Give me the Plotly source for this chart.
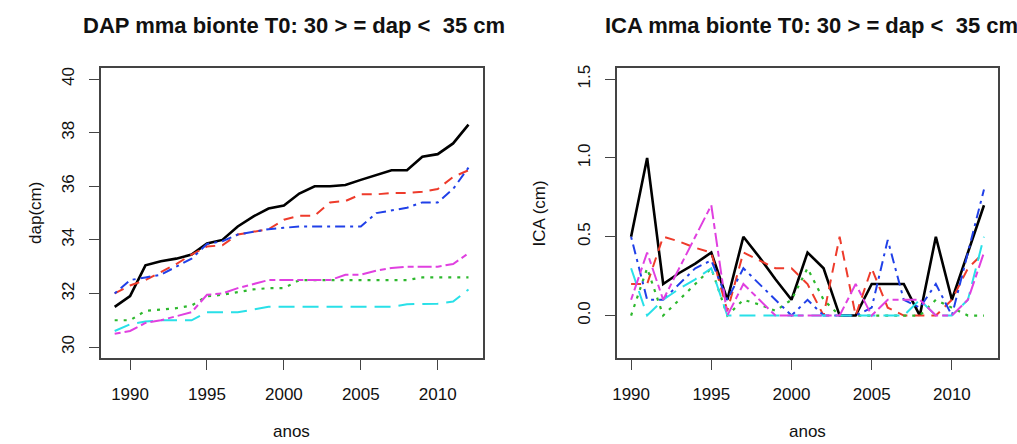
import plotly.graph_objects as go

W, H = 1017, 444

years_dap = [1989, 1990, 1991, 1992, 1993, 1994, 1995, 1996, 1997, 1998, 1999, 2000,
             2001, 2002, 2003, 2004, 2005, 2006, 2007, 2008, 2009, 2010, 2011, 2012]
years_ica = [1990, 1991, 1992, 1993, 1994, 1995, 1996, 1997, 1998, 1999, 2000,
             2001, 2002, 2003, 2004, 2005, 2006, 2007, 2008, 2009, 2010, 2011, 2012]

dap_s1 = [31.5, 31.9, 33.05, 33.2, 33.3, 33.45, 33.87, 34.0, 34.5, 34.87, 35.17, 35.28,
          35.73, 36.0, 36.0, 36.05, 36.24, 36.43, 36.6, 36.6, 37.1, 37.2, 37.6, 38.3]
dap_s2 = [32.0, 32.3, 32.5, 32.8, 33.1, 33.45, 33.75, 33.8, 34.2, 34.3, 34.4, 34.75,
          34.9, 34.9, 35.4, 35.45, 35.7, 35.7, 35.75, 35.75, 35.8, 35.9, 36.35, 36.6]
dap_s3 = [31.0, 31.0, 31.35, 31.4, 31.45, 31.55, 31.9, 31.95, 32.05, 32.15, 32.2, 32.2,
          32.5, 32.5, 32.5, 32.5, 32.5, 32.5, 32.5, 32.5, 32.6, 32.6, 32.6, 32.6]
dap_s4 = [32.0, 32.5, 32.6, 32.7, 33.0, 33.3, 33.85, 33.95, 34.2, 34.3, 34.4, 34.45,
          34.5, 34.5, 34.5, 34.5, 34.5, 35.0, 35.1, 35.2, 35.4, 35.4, 35.9, 36.7]
dap_s5 = [30.6, 30.85, 30.95, 31.0, 31.0, 31.0, 31.3, 31.3, 31.3, 31.4, 31.5, 31.5,
          31.5, 31.5, 31.5, 31.5, 31.5, 31.5, 31.5, 31.6, 31.6, 31.62, 31.7, 32.15]
dap_s6 = [30.5, 30.6, 30.9, 31.0, 31.15, 31.3, 31.95, 32.0, 32.2, 32.35, 32.5, 32.5,
          32.5, 32.5, 32.5, 32.7, 32.7, 32.85, 32.95, 33.0, 33.0, 33.0, 33.1, 33.5]

ica_s1 = [0.5, 1.0, 0.2, 0.27, 0.33, 0.4, 0.1, 0.5, 0.37, 0.23, 0.1, 0.4, 0.3, 0.0,
          0.0, 0.2, 0.2, 0.2, 0.0, 0.5, 0.1, 0.4, 0.7]
ica_s2 = [0.2, 0.2, 0.5, 0.47, 0.43, 0.4, 0.03, 0.4, 0.35, 0.3, 0.3, 0.2, 0.0, 0.5,
          0.0, 0.3, 0.05, 0.0, 0.0, 0.0, 0.1, 0.3, 0.4]
ica_s3 = [0.0, 0.3, 0.0, 0.1, 0.2, 0.3, 0.0, 0.1, 0.07, 0.03, 0.1, 0.3, 0.1, 0.0,
          0.0, 0.0, 0.0, 0.0, 0.0, 0.1, 0.05, 0.0, 0.0]
ica_s4 = [0.5, 0.1, 0.1, 0.2, 0.3, 0.35, 0.1, 0.3, 0.2, 0.1, 0.0, 0.1, 0.0, 0.0,
          0.0, 0.05, 0.48, 0.1, 0.05, 0.2, 0.0, 0.4, 0.8]
ica_s5 = [0.3, 0.0, 0.1, 0.17, 0.23, 0.3, 0.0, 0.0, 0.0, 0.0, 0.0, 0.0, 0.0, 0.0,
          0.0, 0.0, 0.0, 0.0, 0.1, 0.0, 0.0, 0.1, 0.5]
ica_s6 = [0.1, 0.4, 0.1, 0.3, 0.5, 0.7, 0.0, 0.2, 0.1, 0.0, 0.0, 0.0, 0.0, 0.0,
          0.2, 0.0, 0.1, 0.1, 0.1, 0.0, 0.0, 0.1, 0.4]

x_ticks = [1990, 1995, 2000, 2005, 2010]
dap_ticks = [30, 32, 34, 36, 38, 40]
ica_ticks = [0.0, 0.5, 1.0, 1.5]
ica_tick_text = ["0.0", "0.5", "1.0", "1.5"]

title_left = "DAP mma bionte T0: 30 > = dap <  35 cm"
title_right = "ICA mma bionte T0: 30 > = dap <  35 cm"

colors = ["#000000", "#EE3B2B", "#2DB82D", "#2040E8", "#29E0E8", "#E040E0"]
dashes = ["solid", "10px,7px", "3px,6px", "3px,5px,10px,5px", "16px,8px", "6px,4px,14px,4px"]
widths = [2.6, 2.0, 2.2, 2.0, 2.0, 2.0]

dap_series = [dap_s1, dap_s2, dap_s3, dap_s4, dap_s5, dap_s6]
ica_series = [ica_s1, ica_s2, ica_s3, ica_s4, ica_s5, ica_s6]

fig = go.Figure()
for i, ys in enumerate(dap_series):
    fig.add_trace(go.Scatter(x=years_dap, y=ys, mode="lines", xaxis="x", yaxis="y",
                             line=dict(color=colors[i], dash=dashes[i], width=widths[i]),
                             showlegend=False))
for i, ys in enumerate(ica_series):
    fig.add_trace(go.Scatter(x=years_ica, y=ys, mode="lines", xaxis="x2", yaxis="y2",
                             line=dict(color=colors[i], dash=dashes[i], width=widths[i]),
                             showlegend=False))

def px_x(p):
    return p / W

def px_y(p):
    return 1 - p / H

font_fam = "Liberation Sans, Arial, sans-serif"
tick_font = dict(family=font_fam, size=17, color="#111")
axis_common = dict(showgrid=False, zeroline=False, showline=True, mirror=True,
                   linecolor="#444", linewidth=1.5, ticks="outside", ticklen=10,
                   tickwidth=1.2, tickcolor="#444", tickfont=tick_font)

pad_dap = (2012 - 1989) * 0.04
pad_ica = (2012 - 1990) * 0.04
ypad_dap = (40 - 30) * 0.04
ypad_ica = (1.5 - (-0.2)) * 0.04

fig.update_layout(
    width=W, height=H,
    margin=dict(l=0, r=0, t=0, b=0),
    paper_bgcolor="white", plot_bgcolor="white",
    xaxis=dict(domain=[px_x(96), px_x(480)], range=[1989 - pad_dap, 2012 + pad_dap],
               tickvals=x_ticks, anchor="y", ticklabelstandoff=10, **axis_common),
    yaxis=dict(domain=[px_y(357), px_y(65)], range=[30 - ypad_dap, 40 + ypad_dap],
               tickvals=dap_ticks, tickangle=-90, anchor="x", ticklabelstandoff=8,
               **axis_common),
    xaxis2=dict(domain=[px_x(615), px_x(998)], range=[1990 - pad_ica, 2012 + pad_ica],
                tickvals=x_ticks, anchor="y2", ticklabelstandoff=10, **axis_common),
    yaxis2=dict(domain=[px_y(357), px_y(65)], range=[-0.2 - ypad_ica, 1.5 + ypad_ica],
                tickvals=ica_ticks, ticktext=ica_tick_text, tickangle=-90, anchor="x2",
                ticklabelstandoff=8, **axis_common),
)

ann_font = dict(family=font_fam, size=17, color="#111")
title_font = dict(family=font_fam, size=22, color="#111")
fig.add_annotation(text="<b>%s</b>" % title_left, x=px_x(290), y=px_y(22), xref="paper",
                   yref="paper", showarrow=False, font=title_font, xanchor="center",
                   yanchor="middle")
fig.add_annotation(text="<b>%s</b>" % title_right, x=px_x(810), y=px_y(22), xref="paper",
                   yref="paper", showarrow=False, font=title_font, xanchor="center",
                   yanchor="middle")
fig.add_annotation(text="anos", x=px_x(288), y=px_y(431), xref="paper", yref="paper",
                   showarrow=False, font=ann_font, xanchor="center", yanchor="middle")
fig.add_annotation(text="anos", x=px_x(806), y=px_y(431), xref="paper", yref="paper",
                   showarrow=False, font=ann_font, xanchor="center", yanchor="middle")
fig.add_annotation(text="dap(cm)", x=px_x(30), y=px_y(211), xref="paper", yref="paper",
                   showarrow=False, font=ann_font, textangle=-90, xanchor="center",
                   yanchor="middle")
fig.add_annotation(text="ICA (cm)", x=px_x(537), y=px_y(211), xref="paper", yref="paper",
                   showarrow=False, font=ann_font, textangle=-90, xanchor="center",
                   yanchor="middle")

fig.write_html("out.html")
